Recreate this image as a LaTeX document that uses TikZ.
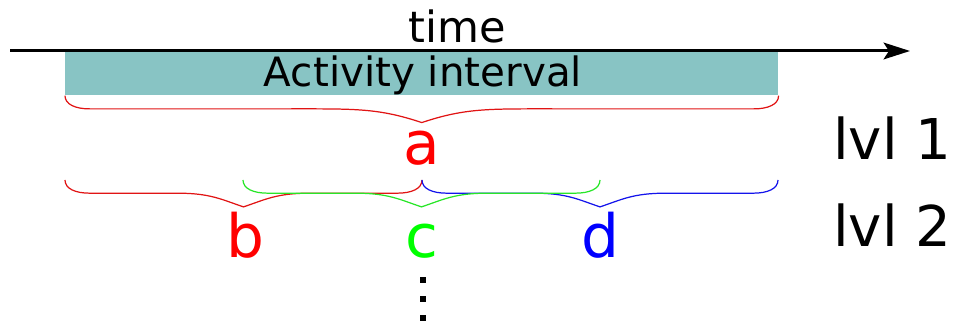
\documentclass[tikz,border=0pt]{standalone}
\usepackage{fontspec}
\setmainfont{DejaVu Sans}
\usepackage{tikz}
\usetikzlibrary{arrows.meta, positioning, calc}
\definecolor{actteal}{RGB}{136, 196, 196}
\definecolor{lvlred}{RGB}{225, 20, 20}
\definecolor{lvlgreen}{RGB}{40, 230, 40}
\definecolor{lvlblue}{RGB}{20, 20, 235}

\tikzset{
  lvlbrace/.style={line width=0.7pt},
  bracepath/.style={to path={
    let \p1=(\tikztostart), \p2=(\tikztotarget),
        \n1={(\x2-\x1)/2}, \n2={0.37*(\x2-\x1)/2} in
    (\p1) .. controls +(0pt,-5pt) and +(-8pt,0pt) .. (\x1+14pt,\y1-7.5pt)
    -- (\x1+\n1-\n2,\y1-7.5pt)
    .. controls +({0.5*\n2*1pt},0pt) and +({-0.33*\n2*1pt},{0.11*\n2*1pt}) .. (\x1+\n1,\y1-15.3pt)
    .. controls +({0.33*\n2*1pt},{0.11*\n2*1pt}) and +({-0.5*\n2*1pt},0pt) .. (\x2-\n1+\n2,\y1-7.5pt)
    -- (\x2-14pt,\y1-7.5pt)
    .. controls +(8pt,0pt) and +(0pt,-5pt) .. (\p2)}},
  letter/.style={font=\fontsize{34}{40}\selectfont, anchor=base, inner sep=0pt},
  lvllabel/.style={font=\fontsize{32}{38}\selectfont, anchor=base west, inner sep=0pt},
}

\begin{document}
\begin{tikzpicture}[x=0.02cm, y=-0.02cm]
        \useasboundingbox (0,0) rectangle (954,323);

        % Time axis
        \coordinate (t0) at (10,51);
        \coordinate (t1) at (910,51);
        \draw[-{Stealth[length=15pt, width=9.5pt, inset=3pt]}, line width=1.7pt] (t0) -- (t1);
        \node[font=\fontsize{24.5}{29}\selectfont, anchor=base, inner sep=0pt] (time) at (457,43) {time};

        % Activity interval
        \node[fill=actteal, inner sep=0pt, minimum width=14.26cm, minimum height=0.86cm,
          anchor=north west] (act) at (65,52) {};
        \node[font=\fontsize{23}{28}\selectfont, anchor=base, inner sep=0pt] (actlabel) at (423,87)
          {Activity interval};

        % Level 1
        \draw[lvlbrace, lvlred] (act.south west) to[bracepath] (act.south east);
        \node[letter, red] (a) at (422,165) {a};
        \node[lvllabel] (lvl1) at (833,160) {lvl 1};

        % Level 2
        \coordinate (l0) at (65,180);
        \coordinate (l1) at (243,180);
        \coordinate (l2) at (422,180);
        \coordinate (l3) at (600,180);
        \coordinate (l4) at (778,180);
        \draw[lvlbrace, lvlred] (l0) to[bracepath] (l2);
        \draw[lvlbrace, lvlblue] (l2) to[bracepath] (l4);
        \draw[lvlbrace, lvlgreen] (l1) to[bracepath] (l3);
        \node[letter, red] (b) at (245,258) {b};
        \node[letter, green] (c) at (422,258) {c};
        \node[letter, blue] (d) at (600,258) {d};
        \node[lvllabel] (lvl2) at (833,247) {lvl 2};

        % Next levels
        \foreach \y in {280,299,318}
          \fill (419.5,\y-3) rectangle ++(6,6);
      \end{tikzpicture}
\end{document}
